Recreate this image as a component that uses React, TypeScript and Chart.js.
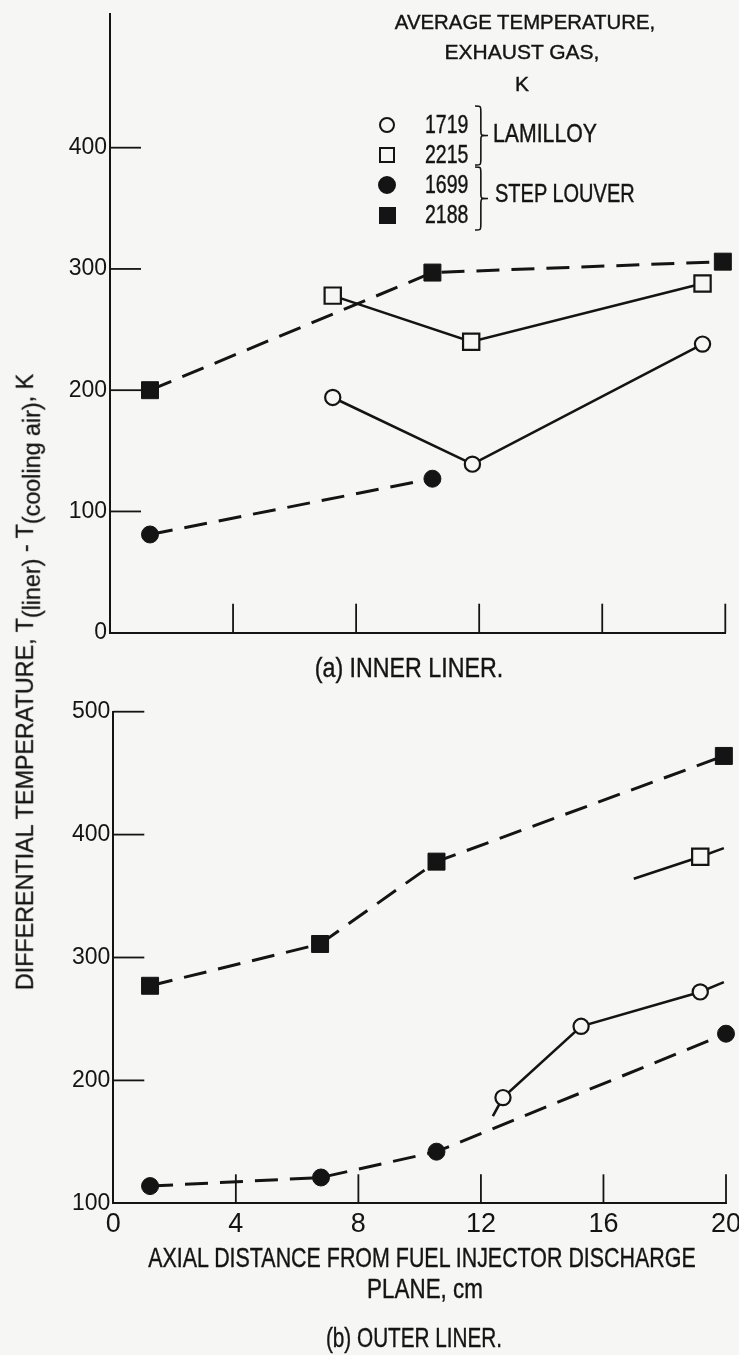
import React, { useEffect, useRef } from "react";
import { Chart, registerables } from "chart.js";

Chart.register(...registerables);

const SANS = "'Liberation Sans', Arimo, 'DejaVu Sans', sans-serif";
const INK = "#141414";
const PAPER = "#f6f6f4";

// ---------- (a) inner liner ----------
const innerLam1719X = [7.24, 11.78, 19.26];
const innerLam1719Y = [194, 139, 238];
const innerLam2215X = [7.24, 11.74, 19.26];
const innerLam2215Y = [278, 240, 288];
const innerStep1699X = [1.3, 10.48];
const innerStep1699Y = [81, 127];
const innerStep2188X = [1.3, 10.48, 19.92];
const innerStep2188Y = [200, 297, 306];

// ---------- (b) outer liner ----------
const outerLam1719X = [12.39, 12.72, 15.27, 19.16, 19.93];
const outerLam1719Y = [171, 186, 244, 272, 280];
const outerLam1719Measured = [false, true, true, true, false];
const outerLam2215X = [16.99, 19.16, 19.93];
const outerLam2215Y = [364, 382, 389];
const outerLam2215Measured = [false, true, false];
const outerStep1699X = [1.2, 6.78, 10.55, 20.0];
const outerStep1699Y = [114, 121, 142, 238];
const outerStep2188X = [1.2, 6.75, 10.55, 19.93];
const outerStep2188Y = [277, 311, 378, 464];

const xTickValues = [0, 4, 8, 12, 16, 20];
const innerYTickValues = [0, 100, 200, 300, 400];
const outerYTickValues = [100, 200, 300, 400, 500];

const legendTemps = ["1719", "2215", "1699", "2188"];
const legendGroups = ["LAMILLOY", "STEP LOUVER"];

type Style = { shape: "circle" | "rect"; filled: boolean; dashed: boolean };
const S1719: Style = { shape: "circle", filled: false, dashed: false };
const S2215: Style = { shape: "rect", filled: false, dashed: false };
const S1699: Style = { shape: "circle", filled: true, dashed: true };
const S2188: Style = { shape: "rect", filled: true, dashed: true };

function makeDataset(label: string, xs: number[], ys: number[], st: Style, measured?: boolean[]) {
  const r = st.shape === "circle" ? (st.filled ? 8.5 : 7.6) : st.filled ? 12 : 11.5;
  return {
    label,
    data: xs.map((x, i) => ({ x, y: ys[i] })),
    borderColor: INK,
    borderWidth: st.dashed ? 3 : 2.6,
    borderDash: st.dashed ? [23, 12] : [],
    pointStyle: st.shape,
    pointRadius: measured ? measured.map((m) => (m ? r : 0)) : r,
    pointBackgroundColor: st.filled ? INK : PAPER,
    pointBorderColor: INK,
    pointBorderWidth: st.filled ? 1 : 2.2,
    tension: 0,
    fill: false,
    clip: false,
  };
}

const inwardTicks = {
  id: "inwardTicks",
  beforeDatasetsDraw(chart: any, _args: any, opts: any) {
    const { ctx, chartArea } = chart;
    const xs = chart.scales.x;
    const ys = chart.scales.y;
    ctx.save();
    ctx.strokeStyle = INK;
    ctx.lineWidth = 1.8;
    (opts.yValues || []).forEach((v: number) => {
      const y = ys.getPixelForValue(v);
      ctx.beginPath();
      ctx.moveTo(chartArea.left, y);
      ctx.lineTo(chartArea.left + opts.yLen, y);
      ctx.stroke();
    });
    (opts.xValues || []).forEach((v: number) => {
      const x = xs.getPixelForValue(v);
      ctx.beginPath();
      ctx.moveTo(x, chartArea.bottom);
      ctx.lineTo(x, chartArea.bottom - opts.xLen);
      ctx.stroke();
    });
    ctx.restore();
  },
};

function makeConfig(datasets: any[], o: any) {
  return {
    type: "line",
    data: { datasets },
    options: {
      responsive: false,
      animation: false,
      events: [],
      layout: { padding: o.padding },
      plugins: {
        legend: { display: false },
        tooltip: { enabled: false },
        inwardTicks: { yValues: o.yInward, xValues: o.xInward, yLen: 31, xLen: 29 },
      },
      scales: {
        x: {
          type: "linear",
          min: 0,
          max: 20,
          grid: { display: false, drawTicks: false },
          border: { display: true, color: INK, width: 2 },
          ticks: {
            display: o.xLabels,
            font: { family: SANS, size: 27 },
            color: INK,
            padding: 5,
            maxRotation: 0,
            autoSkip: false,
          },
          afterBuildTicks: (s: any) => {
            s.ticks = xTickValues.map((v) => ({ value: v }));
          },
          afterFit: (s: any) => {
            s.height = o.xHeight;
            s.paddingLeft = 0;
            s.paddingRight = 0;
          },
        },
        y: {
          type: "linear",
          min: o.yMin,
          max: o.yMax,
          grid: { display: false, drawTicks: false },
          border: { display: true, color: INK, width: 2 },
          ticks: {
            font: { family: SANS, size: 23 },
            color: INK,
            padding: 3,
          },
          afterBuildTicks: (s: any) => {
            s.ticks = o.yTicks.map((v: number) => ({ value: v }));
          },
          afterFit: (s: any) => {
            s.width = o.yWidth;
            s.paddingTop = 0;
            s.paddingBottom = 0;
          },
        },
      },
    },
    plugins: [inwardTicks],
  };
}

function Txt(props: { x: number; y: number; size: number; sx?: number; children: any; align?: "center" | "left" }) {
  const { x, y, size, sx, children, align } = props;
  const k = sx || 1;
  return (
    <div
      style={{
        position: "absolute",
        left: x,
        top: y,
        transformOrigin: align === "left" ? "left center" : "center center",
        transform: align === "left" ? `translate(0,-50%) scaleX(${k})` : `translate(-50%,-50%) scaleX(${k})`,
        font: `${size}px ${SANS}`,
        lineHeight: 1,
        whiteSpace: "nowrap",
        color: INK,
        WebkitTextStroke: `0.4px ${INK}`,
      }}
    >
      {children}
    </div>
  );
}

function Brace(props: { x: number; y0: number; y1: number; w: number }) {
  const { x, y0, y1, w } = props;
  const h = y1 - y0;
  const m = w * 0.45;
  const d = `M0,0 C${m},0 ${m},0 ${m},${h * 0.1} L${m},${h / 2 - h * 0.08} C${m},${h / 2} ${m},${h / 2} ${w},${h / 2} C${m},${h / 2} ${m},${h / 2} ${m},${h / 2 + h * 0.08} L${m},${h * 0.9} C${m},${h} ${m},${h} 0,${h}`;
  return (
    <svg style={{ position: "absolute", left: x, top: y0, overflow: "visible" }} width={w} height={h}>
      <path d={d} fill="none" stroke={INK} strokeWidth={1.6} />
    </svg>
  );
}

function Marker(props: { x: number; y: number; st: Style }) {
  const { x, y, st } = props;
  const size = st.shape === "circle" ? (st.filled ? 18 : 16) : st.filled ? 17 : 16;
  return (
    <div
      style={{
        position: "absolute",
        left: x - size / 2,
        top: y - size / 2,
        width: size,
        height: size,
        boxSizing: "border-box",
        borderRadius: st.shape === "circle" ? "50%" : 0,
        border: `2px solid ${INK}`,
        background: st.filled ? INK : PAPER,
      }}
    />
  );
}

export default function App() {
  const topRef = useRef<HTMLCanvasElement>(null);
  const botRef = useRef<HTMLCanvasElement>(null);

  useEffect(() => {
    const top = new Chart(
      topRef.current as HTMLCanvasElement,
      makeConfig(
        [
          makeDataset("2188", innerStep2188X, innerStep2188Y, S2188),
          makeDataset("1699", innerStep1699X, innerStep1699Y, S1699),
          makeDataset("2215", innerLam2215X, innerLam2215Y, S2215),
          makeDataset("1719", innerLam1719X, innerLam1719Y, S1719),
        ],
        {
          padding: { left: 0, right: 13, top: 14.3, bottom: 27.3 },
          yMin: 0,
          yMax: 510,
          yTicks: innerYTickValues,
          yInward: [100, 200, 300, 400],
          xInward: [4, 8, 12, 16, 20],
          xLabels: false,
          xHeight: 0,
          yWidth: 110,
        }
      ) as any
    );
    const bot = new Chart(
      botRef.current as HTMLCanvasElement,
      makeConfig(
        [
          makeDataset("2188", outerStep2188X, outerStep2188Y, S2188),
          makeDataset("1699", outerStep1699X, outerStep1699Y, S1699),
          makeDataset("2215", outerLam2215X, outerLam2215Y, S2215, outerLam2215Measured),
          makeDataset("1719", outerLam1719X, outerLam1719Y, S1719, outerLam1719Measured),
        ],
        {
          padding: { left: 0, right: 10.7, top: 31.7, bottom: 111.7 },
          yMin: 100,
          yMax: 500,
          yTicks: outerYTickValues,
          yInward: [200, 300, 400, 500],
          xInward: [4, 8, 12, 16, 20],
          xLabels: true,
          xHeight: 40,
          yWidth: 113.3,
        }
      ) as any
    );
    return () => {
      top.destroy();
      bot.destroy();
    };
  }, []);

  const legendStyles = [S1719, S2215, S1699, S2188];
  const rowY = [124, 154, 184, 214];
  const subStyle = { fontSize: "1em", verticalAlign: "-0.3em", lineHeight: 1 };

  return (
    <div style={{ position: "absolute", left: 0, top: 0, width: 739, height: 1355, background: PAPER, overflow: "hidden" }}>
      <canvas ref={topRef} width={739} height={660} style={{ position: "absolute", left: 0, top: 0, width: 739, height: 660 }} />
      <canvas ref={botRef} width={739} height={675} style={{ position: "absolute", left: 0, top: 680, width: 739, height: 675 }} />

      <Txt x={525} y={21} size={21} sx={0.97}>AVERAGE TEMPERATURE,</Txt>
      <Txt x={522} y={51} size={21}>EXHAUST GAS,</Txt>
      <Txt x={522} y={83} size={21}>K</Txt>

      {legendTemps.map((t, i) => (
        <React.Fragment key={t}>
          <Marker x={387} y={rowY[i] + 1} st={legendStyles[i]} />
          <Txt x={425} y={rowY[i]} size={25} sx={0.78} align="left">{t}</Txt>
        </React.Fragment>
      ))}
      <Brace x={475} y0={106} y1={165} w={13} />
      <Brace x={475} y0={167} y1={230} w={13} />
      <Txt x={493} y={133} size={25} sx={0.85} align="left">{legendGroups[0]}</Txt>
      <Txt x={495} y={193} size={25} sx={0.8} align="left">{legendGroups[1]}</Txt>

      <Txt x={409} y={668} size={28} sx={0.83}>(a) INNER LINER.</Txt>
      <Txt x={422} y={1258} size={28} sx={0.765}>AXIAL DISTANCE FROM FUEL INJECTOR DISCHARGE</Txt>
      <Txt x={425} y={1289} size={28} sx={0.8}>PLANE, cm</Txt>
      <Txt x={414} y={1338} size={28} sx={0.74}>(b) OUTER LINER.</Txt>

      <div
        style={{
          position: "absolute",
          left: 28,
          top: 682,
          transform: "translate(-50%,-50%) rotate(-90deg)",
          whiteSpace: "nowrap",
          color: INK,
          lineHeight: 1,
          font: `23.3px ${SANS}`,
          WebkitTextStroke: `0.3px ${INK}`,
        }}
      >
        DIFFERENTIAL TEMPERATURE, T<sub style={subStyle}>(liner)</sub>
        {" - T"}
        <sub style={subStyle}>(cooling air)</sub>, K
      </div>
    </div>
  );
}
